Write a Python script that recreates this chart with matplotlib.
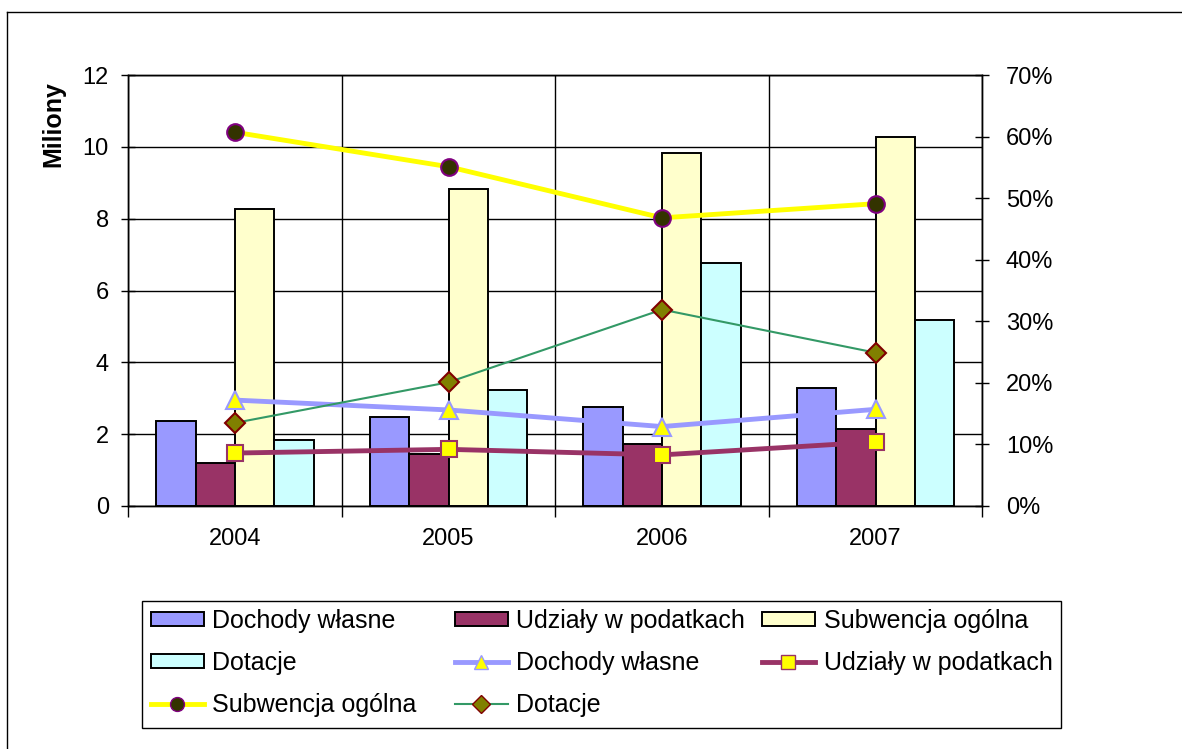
import numpy as np
import matplotlib
matplotlib.use("Agg")
import matplotlib.pyplot as plt
from matplotlib.patches import Patch, Rectangle
from matplotlib.lines import Line2D
from matplotlib.ticker import PercentFormatter, FixedLocator

# dane
years = ["2004", "2005", "2006", "2007"]
dochody = [2.38, 2.48, 2.75, 3.29]
udzialy = [1.19, 1.44, 1.72, 2.14]
subwencja = [8.27, 8.82, 9.84, 10.27]
dotacje = [1.83, 3.23, 6.76, 5.19]

# udzial procentowy (prawa os)
dochody_pct = [17.2, 15.6, 12.9, 15.7]
udzialy_pct = [8.6, 9.2, 8.3, 10.4]
subwencja_pct = [60.7, 55.1, 46.8, 49.1]
dotacje_pct = [13.5, 20.1, 31.9, 24.9]

labels = ["Dochody własne", "Udziały w podatkach", "Subwencja ogólna", "Dotacje"]
bar_colors = ["#9999FF", "#993366", "#FFFFCC", "#CCFFFF"]

plt.rcParams["font.family"] = "Liberation Sans"
plt.rcParams["font.size"] = 17

W, H = 1182, 749
fig = plt.figure(figsize=(W / 100, H / 100), dpi=100)
ax = fig.add_axes([128.3 / W, 1 - 506 / H, (982.3 - 128.3) / W, (506 - 75) / H])
ax2 = ax.twinx()

x = np.arange(len(years)) + 0.5
bw = 0.184
series = [dochody, udzialy, subwencja, dotacje]
for i, vals in enumerate(series):
    ax.bar(x + (i - 1.5) * bw, vals, bw, color=bar_colors[i],
           edgecolor="black", linewidth=1.4, zorder=2)

ax.set_xlim(0, 4)
ax.set_ylim(0, 12)
ax.set_yticks(range(0, 13, 2))
ax.xaxis.set_major_locator(FixedLocator([0, 1, 2, 3, 4]))
ax.xaxis.set_minor_locator(FixedLocator(x))
ax.set_xticklabels([])
ax.set_xticklabels(years, minor=True)
ax.tick_params(axis="x", which="major", direction="out", length=8, width=1)
ax.tick_params(axis="x", which="minor", length=0, pad=16)
ax.tick_params(axis="y", direction="inout", length=10, width=1, pad=9)
ax.grid(True, which="major", color="black", linewidth=1)
ax.set_axisbelow(True)
for s in ax.spines.values():
    s.set_linewidth(1)

# linie - procenty
ax2.plot(x, [v / 100 for v in dochody_pct], color="#9999FF", lw=3.5,
         marker="^", ms=13, mfc="#FFFF00", mec="#9999FF", mew=1.5, zorder=3)
ax2.plot(x, [v / 100 for v in udzialy_pct], color="#993366", lw=3.5,
         marker="s", ms=12, mfc="#FFFF00", mec="#993366", mew=1.5, zorder=3)
ax2.plot(x, [v / 100 for v in subwencja_pct], color="#FFFF00", lw=3.5,
         marker="o", ms=12, mfc="#333300", mec="#800080", mew=1.5, zorder=3)
ax2.plot(x, [v / 100 for v in dotacje_pct], color="#339966", lw=1.5,
         marker="D", ms=10, mfc="#808000", mec="#800000", mew=1.5, zorder=3)
ax2.set_ylim(0, 0.7)
ax2.set_yticks(np.arange(0, 0.71, 0.1))
ax2.yaxis.set_major_formatter(PercentFormatter(1.0, decimals=0))
ax2.tick_params(axis="y", direction="inout", length=10, width=1, pad=12)
for s in ax2.spines.values():
    s.set_linewidth(1)

fig.text(53 / W, 1 - 124 / H, "Miliony", rotation=90, ha="center", va="center",
         fontweight="bold", fontsize=18)

# legenda - trzy kolumny
bar_h = [Patch(facecolor=c, edgecolor="black", linewidth=1.4) for c in bar_colors]
line_h = [
    Line2D([], [], color="#9999FF", lw=3.5, marker="^", ms=10, mfc="#FFFF00", mec="#9999FF"),
    Line2D([], [], color="#993366", lw=3.5, marker="s", ms=10, mfc="#FFFF00", mec="#993366"),
    Line2D([], [], color="#FFFF00", lw=3.5, marker="o", ms=10, mfc="#333300", mec="#800080"),
    Line2D([], [], color="#339966", lw=1.5, marker="D", ms=9, mfc="#808000", mec="#800000"),
]
cols = [
    ([bar_h[0], bar_h[3], line_h[2]], [labels[0], labels[3], labels[2]], 151),
    ([bar_h[1], line_h[0], line_h[3]], [labels[1], labels[0], labels[3]], 455),
    ([bar_h[2], line_h[1]], [labels[2], labels[1]], 762),
]
for hs, ls, px in cols:
    leg = fig.legend(hs, ls, loc="upper left", bbox_to_anchor=(px / W, 1 - 609 / H),
                     frameon=False, fontsize=18, borderpad=0, borderaxespad=0,
                     handlelength=2.1, handleheight=0.52, handletextpad=0.36,
                     labelspacing=0.72)
fig.add_artist(Rectangle((142 / W, 1 - 728 / H), 919 / W, 127 / H,
                         transform=fig.transFigure, fill=False,
                         edgecolor="black", linewidth=1))

# ramka wykresu
fig.add_artist(Line2D([7 / W, 1], [1 - 12 / H, 1 - 12 / H], color="black", lw=1,
                      transform=fig.transFigure))
fig.add_artist(Line2D([7 / W, 7 / W], [0, 1 - 12 / H], color="black", lw=1,
                      transform=fig.transFigure))

fig.savefig("out.png", dpi=100)
